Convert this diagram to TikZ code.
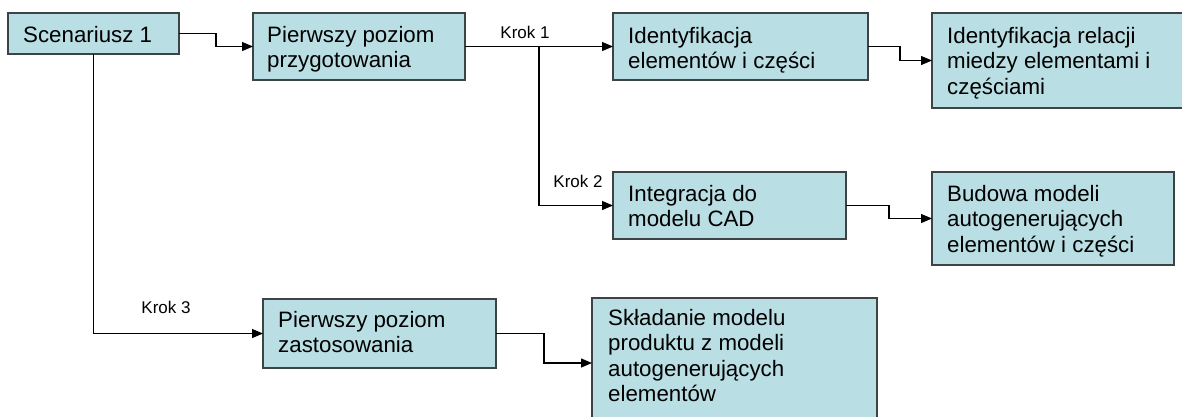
\documentclass[tikz,border=0pt]{standalone}
\usepackage{fontspec}
\setmainfont{Liberation Sans}
\usetikzlibrary{calc,arrows.meta}
\definecolor{boxfill}{RGB}{185,222,227}
\definecolor{boxline}{RGB}{60,68,70}
\begin{document}
\begin{tikzpicture}[x=1pt,y=-1pt,
  box/.style={draw=boxline, line width=1.4pt, fill=boxfill, anchor=north west, inner sep=0, outer sep=0},
  txt/.style={anchor=north west, inner sep=0, align=left, font=\fontsize{22.3}{25.5}\selectfont},
  krok/.style={anchor=base, inner sep=0, font=\fontsize{17}{20}\selectfont},
  arr/.style={line width=1.2pt, -{Triangle[length=11pt,width=9pt]}}]
\useasboundingbox[fill=white] (0,0) rectangle (1182,416);
% boxes
\node[box, minimum width=171, minimum height=41] (s1) at (8,13) {};
\node[box, minimum width=212, minimum height=67] (pp) at (253,13) {};
\node[box, minimum width=255, minimum height=67] (id) at (613,13) {};
\node[box, minimum width=252, minimum height=95] (rel) at (932,13) {};
\node[box, minimum width=233, minimum height=67] (ig) at (613,172) {};
\node[box, minimum width=242, minimum height=93] (bud) at (932,172) {};
\node[box, minimum width=233, minimum height=69] (pz) at (263,299) {};
\node[box, minimum width=285, minimum height=130] (skl) at (592,298) {};
% texts
\node[txt] (t1) at ($(s1.north west)+(15,11)$) {\strut Scenariusz 1};
\node[txt] (t2) at ($(pp.north west)+(14,11)$) {\strut Pierwszy poziom\\przygotowania};
\node[txt] (t3) at ($(id.north west)+(15,12)$) {\strut Identyfikacja\\elementów i części};
\node[txt] (t4) at ($(rel.north west)+(15,12)$) {\strut Identyfikacja relacji\\miedzy elementami i\\częściami};
\node[txt] (t5) at ($(ig.north west)+(15,11)$) {\strut Integracja do\\modelu CAD};
\node[txt] (t6) at ($(bud.north west)+(15,11)$) {\strut Budowa modeli\\autogenerujących\\elementów i części};
\node[txt] (t7) at ($(pz.north west)+(15,10)$) {\strut Pierwszy poziom\\zastosowania};
\node[txt] (t8) at ($(skl.north west)+(16,9)$) {\strut Składanie modelu\\produktu z modeli\\autogenerujących\\elementów};
% connectors
\coordinate (m1) at ($(s1.east)!0.5!(pp.west)$);
\draw[arr] (s1.east) -| (m1) |- (pp.west);
\draw[arr] (s1.south) |- (pz.west);
\draw[arr] (pp.east) -- (id.west);
\coordinate (br) at ($(pp.east)!0.5!(id.west)$);
\draw[arr] (br) |- (ig.west);
\coordinate (m2) at ($(id.east)!0.5!(rel.west)$);
\draw[arr] (id.east) -| (m2) |- (rel.west);
\coordinate (m3) at ($(ig.east)!0.5!(bud.west)$);
\draw[arr] (ig.east) -| (m3) |- (bud.west);
\coordinate (m4) at ($(pz.east)!0.5!(skl.west)$);
\draw[arr] (pz.east) -| (m4) |- (skl.west);
% labels
\node[krok] (k1) at (525,38) {Krok 1};
\node[krok] (k2) at (578,187) {Krok 2};
\node[krok] (k3) at (166,313) {Krok 3};
\end{tikzpicture}
\end{document}
